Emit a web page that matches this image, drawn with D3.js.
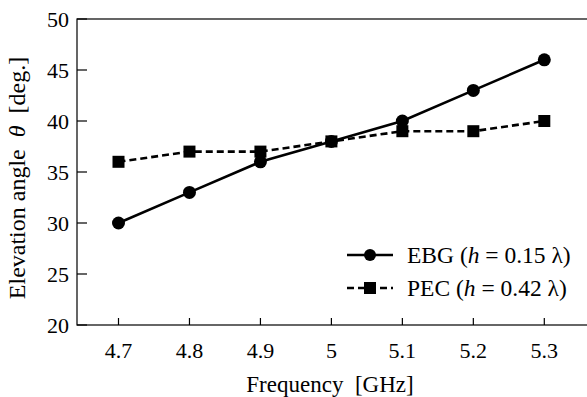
<!DOCTYPE html>
<html lang="en">
<head>
<meta charset="UTF-8">
<title>Elevation angle vs frequency</title>
<script src="https://d3js.org/d3.v7.min.js"></script>
<style>
  body { margin: 0; background: #fff; }
</style>
</head>
<body>
<svg id="chart" width="587" height="397"></svg>
<script>
let freqs = [4.7, 4.8, 4.9, 5.0, 5.1, 5.2, 5.3];
let ebgVals = [30, 33, 36, 38, 40, 43, 46];
let pecVals = [36, 37, 37, 38, 39, 39, 40];
let yTicks = [20, 25, 30, 35, 40, 45, 50];
let xTickLabels = ['4.7', '4.8', '4.9', '5', '5.1', '5.2', '5.3'];

let fontFam = "'Liberation Serif', serif";

let svg = d3.select('#chart');

let x = d3.scaleLinear().domain([4.7, 5.3]).range([118.5, 544.3]);
let y = d3.scaleLinear().domain([20, 50]).range([325, 19]);

let plotLeft = 77, plotRight = 610, plotTop = y(50), plotBottom = y(20);

let addText = function(px, py, str, anchor, size) {
  return svg.append('text')
      .attr('x', px).attr('y', py)
      .attr('text-anchor', anchor)
      .style('font-family', fontFam)
      .style('font-size', size)
      .style('fill', '#000')
      .text(str);
};

// frame (right side falls outside the picture)
svg.append('rect')
    .attr('x', plotLeft).attr('y', plotTop)
    .attr('width', plotRight - plotLeft).attr('height', plotBottom - plotTop)
    .style('fill', 'none').style('stroke', '#000').style('stroke-width', 1.2);

// y ticks, inward
yTicks.forEach(function(t) {
  svg.append('line')
      .attr('x1', plotLeft).attr('x2', plotLeft + 10)
      .attr('y1', y(t)).attr('y2', y(t))
      .style('stroke', '#000').style('stroke-width', 1.2);
  addText(69, y(t) + 7.5, t, 'end', '22px');
});

// x ticks, inward
freqs.forEach(function(f, i) {
  svg.append('line')
      .attr('x1', x(f)).attr('x2', x(f))
      .attr('y1', plotBottom).attr('y2', plotBottom - 7)
      .style('stroke', '#000').style('stroke-width', 1.2);
  addText(x(f), 358, xTickLabels[i], 'middle', '22px');
});

addText(330, 392, 'Frequency\u00a0\u00a0[GHz]', 'middle', '23px');

let yTitle = svg.append('text')
    .attr('transform', 'translate(25,178) rotate(-90)')
    .attr('text-anchor', 'middle')
    .style('font-family', fontFam)
    .style('font-size', '24px')
    .style('fill', '#000');
yTitle.append('tspan').text('Elevation angle\u00a0\u00a0');
yTitle.append('tspan').style('font-style', 'italic').text('θ');
yTitle.append('tspan').text('\u00a0\u00a0[deg.]');

let line = d3.line()
    .x(function(d) { return x(d[0]); })
    .y(function(d) { return y(d[1]); });

let ebg = freqs.map(function(f, i) { return [f, ebgVals[i]]; });
let pec = freqs.map(function(f, i) { return [f, pecVals[i]]; });

svg.append('path').datum(pec).attr('d', line)
    .style('fill', 'none').style('stroke', '#000')
    .style('stroke-width', 2.6).style('stroke-dasharray', '7,4');
svg.append('path').datum(ebg).attr('d', line)
    .style('fill', 'none').style('stroke', '#000')
    .style('stroke-width', 2.6);

svg.selectAll('.sq').data(pec).enter().append('rect')
    .attr('class', 'sq')
    .attr('x', function(d) { return x(d[0]) - 6; })
    .attr('y', function(d) { return y(d[1]) - 6; })
    .attr('width', 12).attr('height', 12)
    .style('fill', '#000');
svg.selectAll('.dot').data(ebg).enter().append('circle')
    .attr('class', 'dot')
    .attr('cx', function(d) { return x(d[0]); })
    .attr('cy', function(d) { return y(d[1]); })
    .attr('r', 6.5)
    .style('fill', '#000');

// legend
let legend = [
  {name: 'EBG', h: '0.15', dash: null, marker: 'circle', y: 255},
  {name: 'PEC', h: '0.42', dash: '7,4', marker: 'square', y: 288}
];
legend.forEach(function(l) {
  svg.append('line')
      .attr('x1', 347).attr('x2', 393)
      .attr('y1', l.y).attr('y2', l.y)
      .style('stroke', '#000').style('stroke-width', 2.6)
      .style('stroke-dasharray', l.dash);
  if (l.marker === 'circle') {
    svg.append('circle').attr('cx', 370).attr('cy', l.y).attr('r', 6).style('fill', '#000');
  } else {
    svg.append('rect').attr('x', 364).attr('y', l.y - 6).attr('width', 12).attr('height', 12).style('fill', '#000');
  }
  let t = addText(407, l.y + 8, null, 'start', '23.5px');
  t.append('tspan').text(l.name + ' (');
  t.append('tspan').style('font-style', 'italic').text('h');
  t.append('tspan').text(' = ' + l.h + ' λ)');
});
</script>
</body>
</html>
